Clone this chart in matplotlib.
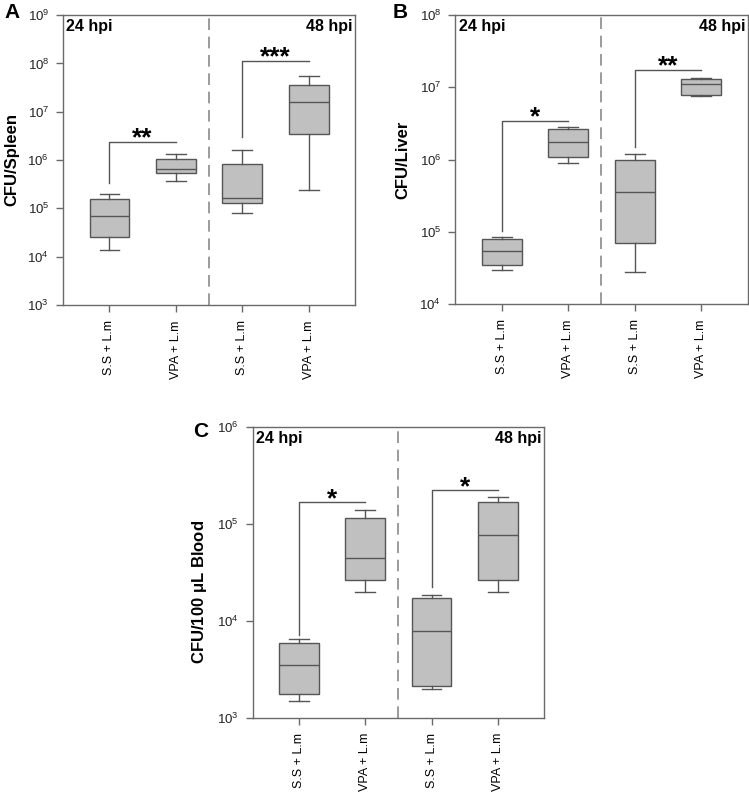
# Bacterial load box plots (spleen, liver, blood) at 24 and 48 hpi.
import numpy as np
import matplotlib as mpl
mpl.use("Agg")
import matplotlib.pyplot as plt
from matplotlib.ticker import FixedLocator, NullLocator, FixedFormatter

plt.rcParams["font.family"] = ["Liberation Sans", "DejaVu Sans"]
plt.rcParams["mathtext.fontset"] = "custom"
plt.rcParams["mathtext.rm"] = "Liberation Sans"
plt.rcParams["mathtext.it"] = "Liberation Sans:italic"
plt.rcParams["mathtext.bf"] = "Liberation Sans:bold"

# Group labels (x axis).
groups = ["S.S + L.m", "VPA + L.m", "S.S + L.m", "VPA + L.m"]
times = ["24 hpi", "48 hpi"]

# Panel A - spleen.
spleen_low = [1.37e4, 3.7e5, 8.1e4, 2.4e5]
spleen_q1 = [2.5e4, 5.3e5, 1.27e5, 3.4e6]
spleen_med = [6.8e4, 6.4e5, 1.61e5, 1.56e7]
spleen_q3 = [1.56e5, 1.07e6, 8.3e5, 3.56e7]
spleen_high = [2.0e5, 1.31e6, 1.59e6, 5.5e7]
spleen_brk_start = [3.4e5, 2.94e6]
spleen_brk_top = [2.36e6, 1.12e8]
spleen_stars = ["**", "***"]

# Panel B - liver.
liver_low = [2.99e4, 9.1e5, 2.74e4, 7.6e6]
liver_q1 = [3.43e4, 1.07e6, 7.1e4, 7.8e6]
liver_med = [5.46e4, 1.77e6, 3.53e5, 1.1e7]
liver_q3 = [7.9e4, 2.63e6, 1.0e6, 1.32e7]
liver_high = [8.4e4, 2.83e6, 1.19e6, 1.35e7]
liver_brk_start = [1.03e5, 1.51e6]
liver_brk_top = [3.46e6, 1.74e7]
liver_stars = ["*", "**"]

# Panel C - blood.
blood_low = [1.5e3, 1.99e4, 1.99e3, 1.99e4]
blood_q1 = [1.74e3, 2.62e4, 2.12e3, 2.62e4]
blood_med = [3.5e3, 4.46e4, 7.8e3, 7.7e4]
blood_q3 = [5.96e3, 1.16e5, 1.71e4, 1.69e5]
blood_high = [6.5e3, 1.39e5, 1.85e4, 1.89e5]
blood_brk_start = [7.1e3, 2.25e4]
blood_brk_top = [1.67e5, 2.22e5]
blood_stars = ["*", "*"]

EDGE = "#555555"
FILL = "#c0c0c0"
SPINE = "#6a6a6a"


def draw_panel(ax, low, q1, med, q3, high, brk_start, brk_top, stars,
               ylabel, exps, letter, letter_xy, ylabel_xy):
  stats = []
  for i in range(len(groups)):
    stats.append(dict(whislo=low[i], q1=q1[i], med=med[i], q3=q3[i],
                      whishi=high[i], fliers=[]))
  pos = np.arange(1, len(groups) + 1)
  ax.bxp(stats, positions=pos, widths=0.6, showfliers=False,
         patch_artist=True,
         boxprops=dict(facecolor=FILL, edgecolor=EDGE, linewidth=1.0),
         medianprops=dict(color=EDGE, linewidth=1.0),
         whiskerprops=dict(color=EDGE, linewidth=1.0),
         capprops=dict(color=EDGE, linewidth=1.0))

  ax.set_yscale("log")
  ax.set_ylim(10.0**exps[0], 10.0**exps[-1])
  ax.set_xlim(0.3, 4.7)
  ax.yaxis.set_major_locator(FixedLocator([10.0**e for e in exps]))
  ax.yaxis.set_major_formatter(
    FixedFormatter([r"$\mathregular{10^{%d}}$" % e for e in exps]))
  ax.yaxis.set_minor_locator(NullLocator())
  ax.set_xticks(pos)
  ax.set_xticklabels(groups, rotation=90, fontsize=9)
  ax.tick_params(axis="y", labelsize=9.5, length=5, width=1, color=SPINE,
                 pad=5, labelcolor="#222222")
  ax.tick_params(axis="x", length=5, width=1, color=SPINE, pad=6)
  for s in ax.spines.values():
    s.set_color(SPINE)
    s.set_linewidth(1.0)

  # Divider between time points.
  ax.axvline(2.5, color="#8a8a8a", linewidth=1.2, linestyle=(0, (7, 4)))
  ax.text(0.012, 0.962, times[0], transform=ax.transAxes, ha="left",
          va="center", fontsize=11.5, fontweight="bold")
  ax.text(0.992, 0.962, times[1], transform=ax.transAxes, ha="right",
          va="center", fontsize=11.5, fontweight="bold")

  # Significance brackets.
  for k in range(2):
    x0 = pos[2 * k]
    x1 = pos[2 * k + 1]
    ax.plot([x0, x0, x1], [brk_start[k], brk_top[k], brk_top[k]],
            color=EDGE, linewidth=1.0)
    ax.annotate(stars[k], xy=((x0 + x1) / 2.0, brk_top[k]),
                xytext=(0, -2.5), textcoords="offset points",
                ha="center", va="baseline", fontsize=19, fontweight="bold")

  ax.set_ylabel(ylabel, fontsize=12, fontweight="bold")
  ax.yaxis.set_label_coords(*ylabel_xy)
  ax.figure.text(letter_xy[0], letter_xy[1], letter, fontsize=15,
                 fontweight="bold", ha="center", va="center")


fig = plt.figure(figsize=(7.49, 7.96), dpi=100)
axA = fig.add_axes([0.0841, 0.617, 0.390, 0.364])
axB = fig.add_axes([0.6075, 0.618, 0.391, 0.363])
axC = fig.add_axes([0.3374, 0.0984, 0.389, 0.365])

draw_panel(axA, spleen_low, spleen_q1, spleen_med, spleen_q3, spleen_high,
           spleen_brk_start, spleen_brk_top, spleen_stars,
           "CFU/Spleen", [3, 4, 5, 6, 7, 8, 9], "A", (0.016, 0.984),
           (-0.151, 0.5))
draw_panel(axB, liver_low, liver_q1, liver_med, liver_q3, liver_high,
           liver_brk_start, liver_brk_top, liver_stars,
           "CFU/Liver", [4, 5, 6, 7, 8], "B", (0.534, 0.984),
           (-0.153, 0.5))
draw_panel(axC, blood_low, blood_q1, blood_med, blood_q3, blood_high,
           blood_brk_start, blood_brk_top, blood_stars,
           r"CFU/100 $\mathregular{\mu}$L Blood", [3, 4, 5, 6], "C",
           (0.268, 0.4577), (-0.151, 0.434))

fig.savefig("out.png", dpi=100)
